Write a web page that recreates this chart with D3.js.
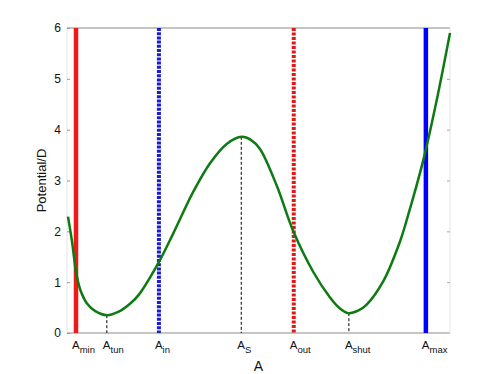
<!DOCTYPE html>
<html><head><meta charset="utf-8">
<script src="https://cdn.jsdelivr.net/npm/d3@7"></script>
<style>body{margin:0;background:#fff}svg{display:block}text{font-family:"Liberation Sans",Arial,sans-serif}</style>
</head><body><svg id="c" width="498" height="374"></svg>
<script>
// Data
const tickNames = ["min","tun","in","S","out","shut","max"];
const tickPos   = [2.35, 10.4, 24.0, 45.5, 59.2, 73.6, 93.7];
const curveA = [0.26, 1.31, 2.35, 3.47, 5.22, 7.39, 10.44, 13.50, 16.53, 18.62, 24.02, 27.75, 32.98, 37.34, 41.70, 45.61, 48.0, 50.39, 54.75, 59.09, 64.31, 68.67, 71.0, 73.45, 76.0, 78.25, 82.59, 86.95, 88.69, 93.03, 96.53, 100];
const curveV = [2.29, 1.80, 1.21, 0.85, 0.58, 0.43, 0.35, 0.42, 0.58, 0.74, 1.40, 1.96, 2.78, 3.34, 3.72, 3.86, 3.80, 3.62, 2.90, 2.0, 1.20, 0.70, 0.50, 0.39, 0.44, 0.56, 1.02, 1.80, 2.22, 3.40, 4.58, 5.90];
const yTicks = [0,1,2,3,4,5,6];
const markerIdx = [1,3,5]; // tun, S, shut : dashed drop lines
const markerVal = [0.35, 3.86, 0.39];

const svg = d3.select("#c");
const L=67, R=450, T=28, B=333;
const x = d3.scaleLinear().domain([0,100]).range([L,R]);
const y = d3.scaleLinear().domain([0,6]).range([B,T]);

// frame
svg.append("line").attr("x1",L).attr("x2",R).attr("y1",T).attr("y2",T).attr("stroke","#8a8a8a");
svg.append("line").attr("x1",L).attr("x2",R).attr("y1",B).attr("y2",B).attr("stroke","#8a8a8a");
svg.append("line").attr("x1",L).attr("x2",L).attr("y1",T).attr("y2",B).attr("stroke","#e4e4e4");
svg.append("line").attr("x1",R).attr("x2",R).attr("y1",T).attr("y2",B).attr("stroke","#e4e4e4");

// y axis
const ya = svg.append("g").attr("transform",`translate(${L},0)`).call(d3.axisLeft(y).tickValues(yTicks).tickSize(-3).tickPadding(6).tickFormat(d3.format("d")));
ya.select(".domain").remove();
ya.selectAll(".tick line").attr("stroke","#999");
ya.selectAll(".tick text").attr("font-size",12).attr("fill","#111").attr("font-family","Liberation Sans, Arial, sans-serif");
const yr = svg.append("g").attr("transform",`translate(${R},0)`).call(d3.axisRight(y).tickValues(yTicks.slice(1,6)).tickSize(-3).tickFormat(""));
yr.select(".domain").remove();
yr.selectAll(".tick line").attr("stroke","#aaa");

// vertical boundary lines
const vl = [
  {i:0, c:"#f01818", w:4.5, d:null},
  {i:2, c:"#1a1ad8", w:4, d:"3,1.2"},
  {i:4, c:"#e01818", w:4, d:"3,1.5"},
  {i:6, c:"#0000ff", w:4.5, d:null}
];
vl.forEach(v=>{
  const ln = svg.append("line").attr("x1",x(tickPos[v.i])).attr("x2",x(tickPos[v.i]))
    .attr("y1",T).attr("y2",B).attr("stroke",v.c).attr("stroke-width",v.w);
  if(v.d) ln.attr("stroke-dasharray",v.d);
});

// dashed drop lines
markerIdx.forEach((mi,k)=>{
  svg.append("line").attr("x1",x(tickPos[mi])).attr("x2",x(tickPos[mi]))
    .attr("y1",y(markerVal[k])).attr("y2",B).attr("stroke","#000").attr("stroke-width",1).attr("stroke-dasharray","3,2");
});

// curve
const pts = curveA.map((a,i)=>[a,curveV[i]]);
svg.append("path").datum(pts)
  .attr("d", d3.line().x(d=>x(d[0])).y(d=>y(d[1])).curve(d3.curveCatmullRom.alpha(0.5)))
  .attr("fill","none").attr("stroke","#0e7a12").attr("stroke-width",2.5);

// x tick labels
tickNames.forEach((n,i)=>{
  const t = svg.append("text").attr("x",x(tickPos[i])-4).attr("y",349).attr("font-size",11.5).attr("fill","#111");
  t.append("tspan").text("A");
  t.append("tspan").attr("dy",4).attr("font-size",9.5).text(n);
});

// axis labels
svg.append("text").attr("x",(L+R)/2).attr("y",371).attr("text-anchor","middle").attr("font-size",14).attr("fill","#111").text("A");
svg.append("text").attr("transform",`translate(46,${(T+B)/2}) rotate(-90)`).attr("text-anchor","middle").attr("font-size",13).attr("fill","#111").text("Potential/D");
</script></body></html>
